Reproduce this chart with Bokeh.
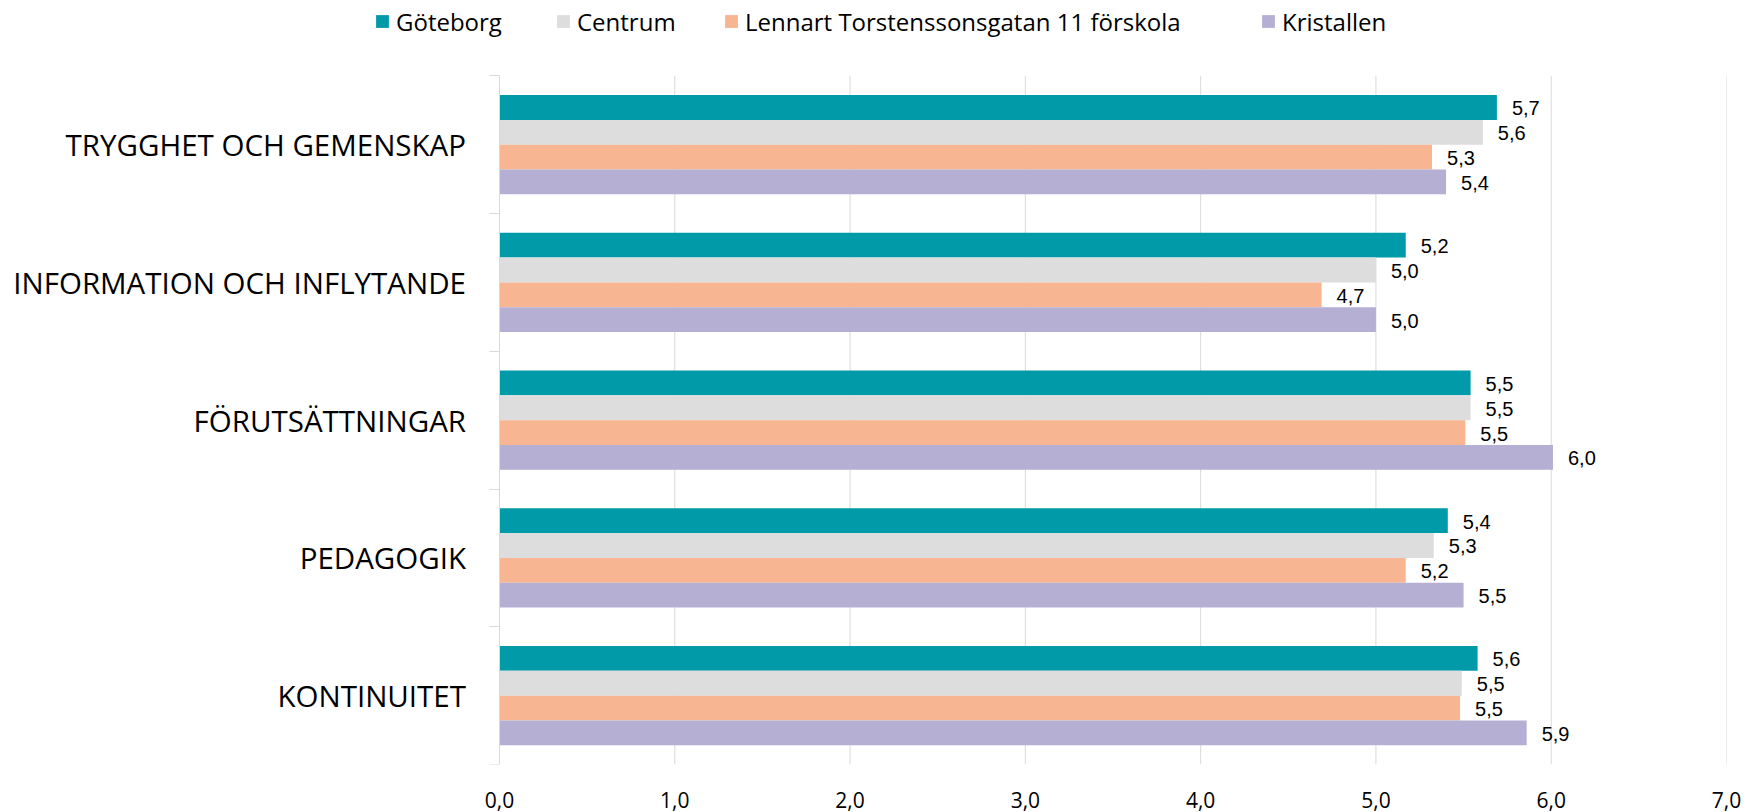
import numpy as np
from bokeh.plotting import figure
from bokeh.models import (ColumnDataSource, Range1d, FixedTicker, Legend, LegendItem,
                          LabelSet, LinearAxis)
from bokeh.core.properties import value
from bokeh.embed import file_html
from bokeh.resources import INLINE

categories = ["TRYGGHET OCH GEMENSKAP", "INFORMATION OCH INFLYTANDE",
              "FÖRUTSÄTTNINGAR", "PEDAGOGIK", "KONTINUITET"]
series_names = ["Göteborg", "Centrum", "Lennart Torstenssonsgatan 11 förskola", "Kristallen"]
goteborg = [5.69, 5.17, 5.54, 5.41, 5.58]
centrum = [5.61, 5.00, 5.54, 5.33, 5.49]
lennart = [5.32, 4.69, 5.51, 5.17, 5.48]
kristallen = [5.40, 5.00, 6.01, 5.50, 5.86]
x_ticks = [0, 1, 2, 3, 4, 5, 6, 7]
x_tick_labels = ["0,0", "1,0", "2,0", "3,0", "4,0", "5,0", "6,0", "7,0"]

colors = ["#009AA9", "#DDDDDD", "#F8B592", "#B4AFD3"]
series = [goteborg, centrum, lennart, kristallen]
offsets = [-0.27, -0.09, 0.09, 0.27]
bar_h = 0.18

# ---- layout (pixels) ----
W, H = 1746, 812
ZERO_PX, SEVEN_PX = 499, 1726        # where 0 and 7 sit horizontally
PLOT_TOP, PLOT_BOTTOM = 75.3, 764    # category area
n = len(categories)
px_per_unit = (SEVEN_PX - ZERO_PX) / 7
x_start = -ZERO_PX / px_per_unit
band_px = (PLOT_BOTTOM - PLOT_TOP) / n
y_extra = PLOT_TOP / band_px

p = figure(width=W, height=H, output_backend="svg", toolbar_location=None,
           x_range=Range1d(x_start, 7), y_range=Range1d(n, -y_extra),
           y_axis_location=None,
           min_border_left=0, min_border_right=W - SEVEN_PX, min_border_top=0,
           min_border_bottom=H - PLOT_BOTTOM)
p.outline_line_color = None
p.background_fill_color = "white"
p.xgrid.grid_line_color = None
p.ygrid.grid_line_color = None

# vertical grid lines limited to the category area
gsrc = ColumnDataSource(dict(x=x_ticks, y0=[0] * len(x_ticks), y1=[n] * len(x_ticks)))
p.segment(x0="x", x1="x", y0="y0", y1="y1", source=gsrc, line_color="#D9D9D9",
          line_width=1, level="underlay")

centers = np.arange(n) + 0.5
renderers = []
for vals, col, off in zip(series, colors, offsets):
    src = ColumnDataSource(dict(
        y=centers + off, v=vals,
        lbl=[f"{v:.1f}".replace(".", ",") for v in vals]))
    r = p.hbar(y="y", right="v", left=0, height=bar_h, source=src,
               fill_color=col, line_color=None)
    renderers.append(r)
    p.add_layout(LabelSet(x="v", y="y", text="lbl", source=src, x_offset=15, y_offset=-1,
                          text_align="left", text_baseline="middle",
                          text_font=value("Liberation Sans"), text_font_size=value("20px"),
                          text_color=value("#000000")))

# category labels, placed left of the value axis
csrc = ColumnDataSource(dict(x=[0] * n, y=centers, t=categories))
p.text(x="x", y="y", text="t", source=csrc, x_offset=-33.5, y_offset=0,
       text_align="right", text_baseline="middle",
       text_font=value("Open Sans"), text_font_size=value("29.5px"), text_color="#000000")

# vertical axis line at x = 0, with ticks between categories
yax = LinearAxis(fixed_location=0, bounds=(0, n),
                 ticker=FixedTicker(ticks=[], minor_ticks=list(range(n + 1))),
                 axis_line_color="#D9D9D9", major_tick_line_color=None,
                 minor_tick_line_color="#D9D9D9", minor_tick_in=10, minor_tick_out=0)
p.add_layout(yax, "right")

# x axis
p.xaxis.ticker = FixedTicker(ticks=x_ticks)
p.xaxis.major_label_overrides = {t: l for t, l in zip(x_ticks, x_tick_labels)}
p.xaxis.axis_line_color = None
p.xaxis.major_tick_line_color = None
p.xaxis.minor_tick_line_color = None
p.xaxis.major_tick_out = 0
p.xaxis.major_label_standoff = 27
p.xaxis.major_label_text_font = "Open Sans"
p.xaxis.major_label_text_font_size = "21px"
p.xaxis.major_label_text_color = "#000000"

# legends, one per item, inside the frame above the categories
legend_x = [374, 555, 723, 1260]
legend_bottom = 37.8
for name, r, lx in zip(series_names, renderers, legend_x):
    lg = Legend(items=[LegendItem(label=name, renderers=[r])],
                location=(lx, PLOT_BOTTOM - legend_bottom), orientation="horizontal",
                glyph_width=16, glyph_height=16, label_standoff=6,
                label_text_font="Open Sans", label_text_font_size="24px",
                label_text_color="#000000", label_height=16,
                padding=0, margin=0, border_line_color=None,
                background_fill_alpha=0)
    p.add_layout(lg, "center")

open("out.html", "w").write(file_html(p, INLINE))
